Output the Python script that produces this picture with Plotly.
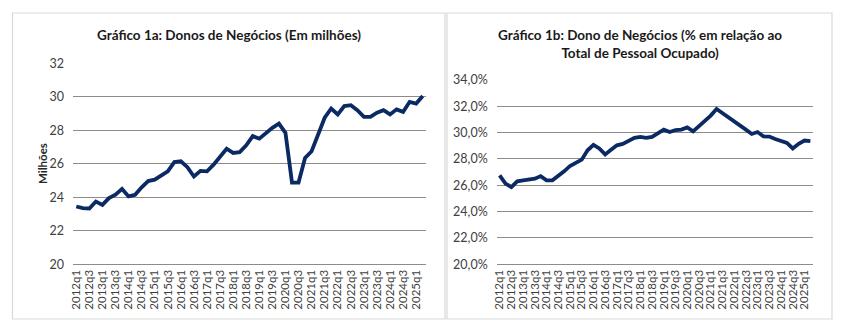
import plotly.graph_objects as go

W, H = 850, 326

quarters = [f"{y}q{q}" for y in range(2012, 2026) for q in range(1, 5)][:54]
tick_labels = quarters[::2]

donos_milhoes = [23.45, 23.35, 23.33, 23.75, 23.55, 23.95, 24.15, 24.5, 24.05, 24.15,
                 24.6, 24.97, 25.05, 25.3, 25.55, 26.1, 26.15, 25.8, 25.24, 25.58,
                 25.55, 25.95, 26.45, 26.9, 26.65, 26.7, 27.1, 27.65, 27.5, 27.85,
                 28.15, 28.4, 27.85, 24.88, 24.88, 26.35, 26.75, 27.75, 28.75, 29.3,
                 28.95, 29.45, 29.5, 29.2, 28.8, 28.8, 29.05, 29.2, 28.95, 29.25,
                 29.1, 29.7, 29.6, 30.05]

donos_pct = [26.76, 26.13, 25.87, 26.3, 26.38, 26.45, 26.5, 26.7, 26.38, 26.38,
             26.68, 27.06, 27.47, 27.72, 27.95, 28.66, 29.08, 28.8, 28.35, 28.7,
             29.04, 29.15, 29.38, 29.6, 29.68, 29.6, 29.68, 29.97, 30.23, 30.05,
             30.2, 30.23, 30.4, 30.1, 30.48, 30.85, 31.3, 31.8, 31.5, 31.2,
             30.9, 30.58, 30.23, 29.9, 30.05, 29.72, 29.7, 29.52, 29.4, 29.22,
             28.8, 29.15, 29.4, 29.35]

y1_ticks = [20, 22, 24, 26, 28, 30, 32]
y2_ticks = [20, 22, 24, 26, 28, 30, 32, 34]
y2_ticktext = [f"{v:.1f}%".replace(".", ",") for v in y2_ticks]

LINE = "#0b2a63"
GRID = "#8c8c8c"
TICKC = "#404040"
FONT = "Lato"

def px(x):
    return x / W

def py(y):
    return 1 - y / H

fig = go.Figure()
fig.add_trace(go.Scatter(x=quarters, y=donos_milhoes, mode="lines",
                         line=dict(color=LINE, width=3.8), xaxis="x", yaxis="y",
                         showlegend=False))
fig.add_trace(go.Scatter(x=quarters, y=donos_pct, mode="lines",
                         line=dict(color=LINE, width=3.8), xaxis="x2", yaxis="y2",
                         showlegend=False))

xcommon = dict(type="category", categoryorder="array", categoryarray=quarters,
               tickmode="array", tickvals=tick_labels, ticktext=tick_labels,
               tickangle=-90, showgrid=False, showline=True, linecolor=GRID,
               linewidth=1, ticks="", ticklen=0, automargin=False,
               tickfont=dict(family=FONT, size=11.5, color=TICKC),
               range=[-0.5, 53.5], fixedrange=True)

fig.update_layout(
    template="none",
    width=W, height=H,
    margin=dict(l=0, r=0, t=0, b=0, autoexpand=False),
    paper_bgcolor="white", plot_bgcolor="white",
    separators=",.",
    xaxis=dict(domain=[px(73), px(426)], anchor="y", **xcommon),
    xaxis2=dict(domain=[px(496.7), px(813.3)], anchor="y2", **xcommon),
    yaxis=dict(domain=[py(264.3), py(63.3)], anchor="x", range=[20, 32],
               tickmode="array", tickvals=y1_ticks, automargin=False,
               showgrid=True, gridcolor=GRID, gridwidth=1, zeroline=False,
               showline=False, ticks="", ticklabelstandoff=8,
               tickfont=dict(family=FONT, size=12.5, color=TICKC)),
    yaxis2=dict(domain=[py(264.3), py(80)], anchor="x2", range=[20, 34],
                tickmode="array", tickvals=y2_ticks, ticktext=y2_ticktext,
                automargin=False,
                showgrid=True, gridcolor=GRID, gridwidth=1, zeroline=False,
                showline=False, ticks="", ticklabelstandoff=8,
                tickfont=dict(family=FONT, size=12.5, color=TICKC)),
    font=dict(family=FONT, color="#262626"),
)

# panel borders
for x0, x1 in [(12.5, 445), (447, 832)]:
    fig.add_shape(type="rect", xref="paper", yref="paper",
                  x0=px(x0), x1=px(x1), y0=py(319), y1=py(13),
                  line=dict(color="#d9d9d9", width=1.2), fillcolor="rgba(0,0,0,0)",
                  layer="below")

fig.add_annotation(text="<b>Milhões</b>", textangle=-90,
                   xref="paper", yref="paper", x=px(42), y=py(164),
                   xanchor="center", yanchor="middle", showarrow=False,
                   font=dict(family=FONT, size=11.5, color="#262626"))
fig.add_annotation(text="<b>Gráfico 1a: Donos de Negócios (Em milhões)</b>",
                   xref="paper", yref="paper", x=px(229), y=py(35),
                   xanchor="center", yanchor="middle", showarrow=False,
                   font=dict(family=FONT, size=13.5, color="#1a1a1a"))
fig.add_annotation(text="<b>Gráfico 1b: Dono de Negócios (% em relação ao<br>Total de Pessoal Ocupado)</b>",
                   xref="paper", yref="paper", x=px(639.5), y=py(43.5),
                   xanchor="center", yanchor="middle", showarrow=False,
                   align="center",
                   font=dict(family=FONT, size=13.5, color="#1a1a1a"))

fig.write_html("out.html")
